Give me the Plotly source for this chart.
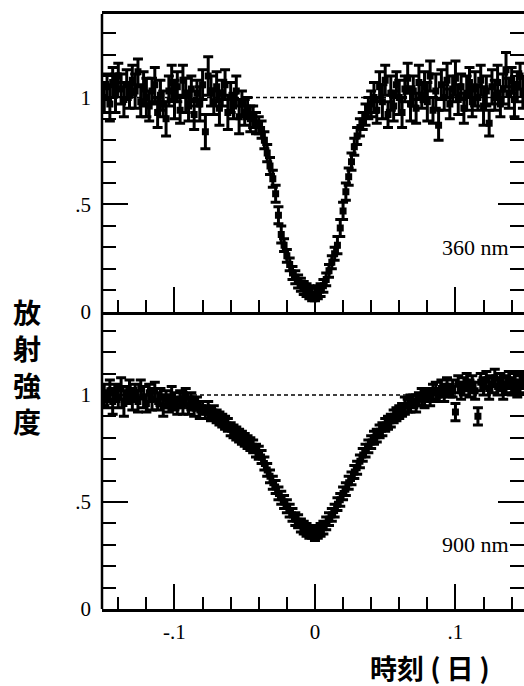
import plotly.graph_objects as go

# time (days), shared sampling for both bands
times = [-0.150, -0.148, -0.146, -0.144, -0.142, -0.140, -0.138, -0.136, -0.134, -0.132,
         -0.130, -0.128, -0.126, -0.124, -0.122, -0.120, -0.118, -0.116, -0.114, -0.112,
         -0.110, -0.108, -0.106, -0.104, -0.102, -0.100, -0.098, -0.096, -0.094, -0.092,
         -0.090, -0.088, -0.086, -0.084, -0.082, -0.080, -0.078, -0.076, -0.074, -0.072,
         -0.070, -0.068, -0.066, -0.064, -0.062, -0.060, -0.058, -0.056, -0.054, -0.052,
         -0.050, -0.048, -0.046, -0.044, -0.042, -0.040, -0.038, -0.036, -0.034, -0.032,
         -0.030, -0.028, -0.026, -0.024, -0.022, -0.020, -0.018, -0.016, -0.014, -0.012,
         -0.010, -0.008, -0.006, -0.004, -0.002, 0.000, 0.002, 0.004, 0.006, 0.008,
         0.010, 0.012, 0.014, 0.016, 0.018, 0.020, 0.022, 0.024, 0.026, 0.028,
         0.030, 0.032, 0.034, 0.036, 0.038, 0.040, 0.042, 0.044, 0.046, 0.048,
         0.050, 0.052, 0.054, 0.056, 0.058, 0.060, 0.062, 0.064, 0.066, 0.068,
         0.070, 0.072, 0.074, 0.076, 0.078, 0.080, 0.082, 0.084, 0.086, 0.088,
         0.090, 0.092, 0.094, 0.096, 0.098, 0.100, 0.102, 0.104, 0.106, 0.108,
         0.110, 0.112, 0.114, 0.116, 0.118, 0.120, 0.122, 0.124, 0.126, 0.128,
         0.130, 0.132, 0.134, 0.136, 0.138, 0.140, 0.142, 0.144, 0.146, 0.148]

# 360 nm relative flux
flux_360 = [1.00, 1.05, 0.97, 1.07, 1.02, 1.10, 1.04, 0.99, 1.06, 1.01,
            1.08, 1.03, 1.12, 0.98, 1.04, 1.00, 0.96, 1.03, 1.06, 0.93,
            1.01, 0.97, 0.90, 1.03, 1.07, 0.99, 1.05, 0.94, 1.08, 1.01,
            0.96, 1.04, 0.92, 1.02, 0.97, 1.06, 0.84, 1.10, 1.03, 0.98,
            1.05, 0.95, 1.02, 1.06, 0.93, 1.00, 0.96, 1.03, 0.91, 0.97,
            0.93, 0.95, 0.90, 0.91, 0.88, 0.87, 0.85, 0.80, 0.74, 0.68,
            0.62, 0.55, 0.45, 0.36, 0.31, 0.26, 0.22, 0.18, 0.16, 0.14,
            0.125, 0.11, 0.10, 0.09, 0.08, 0.08, 0.09, 0.10, 0.12, 0.15,
            0.19, 0.23, 0.27, 0.31, 0.39, 0.47, 0.56, 0.63, 0.70, 0.77,
            0.82, 0.86, 0.89, 0.92, 0.95, 0.97, 1.00, 0.94, 1.05, 0.98,
            1.08, 0.92, 1.02, 0.96, 1.06, 1.00, 0.93, 1.04, 1.09, 0.97,
            1.03, 0.95, 1.07, 1.01, 1.05, 0.98, 1.10, 0.94, 1.03, 0.87,
            1.06, 1.00, 1.08, 0.97, 1.04, 1.09, 0.99, 1.05, 0.95, 1.02,
            1.07, 0.98, 1.04, 1.00, 1.08, 0.96, 1.03, 0.88, 1.05, 1.01,
            1.07, 0.97, 1.04, 1.13, 1.02, 1.08, 0.99, 1.05, 1.10, 1.02]
err_360 = [0.07, 0.06, 0.08, 0.07, 0.09, 0.06, 0.07, 0.08, 0.07, 0.06,
           0.07, 0.08, 0.06, 0.07, 0.08, 0.09, 0.07, 0.06, 0.08, 0.07,
           0.07, 0.06, 0.08, 0.07, 0.08, 0.09, 0.07, 0.06, 0.07, 0.08,
           0.07, 0.06, 0.07, 0.06, 0.08, 0.07, 0.08, 0.09, 0.07, 0.06,
           0.07, 0.08, 0.06, 0.07, 0.08, 0.07, 0.06, 0.07, 0.08, 0.06,
           0.06, 0.05, 0.06, 0.05, 0.05, 0.04, 0.04, 0.04, 0.04, 0.04,
           0.04, 0.04, 0.04, 0.04, 0.03, 0.03, 0.03, 0.03, 0.03, 0.03,
           0.03, 0.03, 0.03, 0.03, 0.03, 0.03, 0.03, 0.03, 0.03, 0.03,
           0.03, 0.03, 0.03, 0.04, 0.04, 0.04, 0.04, 0.04, 0.04, 0.04,
           0.04, 0.04, 0.04, 0.05, 0.05, 0.06, 0.07, 0.06, 0.07, 0.08,
           0.07, 0.06, 0.08, 0.07, 0.06, 0.08, 0.07, 0.06, 0.07, 0.08,
           0.07, 0.07, 0.08, 0.06, 0.07, 0.09, 0.07, 0.06, 0.08, 0.07,
           0.07, 0.06, 0.08, 0.07, 0.06, 0.08, 0.07, 0.06, 0.07, 0.08,
           0.07, 0.07, 0.08, 0.06, 0.07, 0.09, 0.07, 0.06, 0.08, 0.07,
           0.08, 0.06, 0.07, 0.08, 0.07, 0.06, 0.08, 0.07, 0.06, 0.07]

# 900 nm relative flux
flux_900 = [1.00, 0.98, 1.02, 0.97, 1.01, 0.99, 1.03, 0.96, 1.00, 1.02,
            0.98, 1.01, 0.97, 1.03, 0.99, 0.96, 1.01, 0.98, 1.02, 0.97,
            0.99, 0.95, 0.98, 0.96, 0.99, 0.97, 0.95, 0.98, 0.96, 0.99,
            0.95, 0.97, 0.94, 0.96, 0.93, 0.94, 0.92, 0.93, 0.91, 0.92,
            0.90, 0.89, 0.88, 0.87, 0.86, 0.84, 0.83, 0.82, 0.81, 0.80,
            0.79, 0.78, 0.77, 0.76, 0.74, 0.73, 0.71, 0.68, 0.65, 0.62,
            0.59, 0.57, 0.54, 0.52, 0.50, 0.48, 0.46, 0.44, 0.42, 0.41,
            0.39, 0.38, 0.37, 0.36, 0.36, 0.35, 0.36, 0.37, 0.38, 0.40,
            0.42, 0.44, 0.46, 0.49, 0.51, 0.54, 0.56, 0.59, 0.61, 0.64,
            0.66, 0.69, 0.72, 0.74, 0.76, 0.78, 0.80, 0.81, 0.83, 0.84,
            0.86, 0.87, 0.88, 0.90, 0.91, 0.92, 0.93, 0.95, 0.95, 0.96,
            0.97, 0.96, 0.98, 0.99, 0.98, 1.00, 0.99, 1.01, 1.02, 1.00,
            1.03, 1.01, 1.04, 1.02, 1.03, 0.92, 1.05, 1.02, 1.04, 1.06,
            1.03, 1.05, 1.02, 0.90, 1.06, 1.04, 1.07, 1.03, 1.05, 1.08,
            1.04, 1.06, 1.03, 1.05, 1.07, 1.04, 1.06, 1.03, 1.05, 1.07]
err_900 = [0.05, 0.04, 0.05, 0.06, 0.04, 0.05, 0.05, 0.06, 0.04, 0.05,
           0.05, 0.04, 0.05, 0.04, 0.05, 0.04, 0.04, 0.05, 0.04, 0.04,
           0.04, 0.05, 0.04, 0.04, 0.05, 0.04, 0.04, 0.04, 0.05, 0.04,
           0.04, 0.04, 0.04, 0.03, 0.04, 0.03, 0.03, 0.04, 0.03, 0.03,
           0.03, 0.03, 0.03, 0.03, 0.03, 0.03, 0.03, 0.03, 0.03, 0.03,
           0.03, 0.03, 0.03, 0.03, 0.03, 0.03, 0.03, 0.03, 0.03, 0.03,
           0.03, 0.03, 0.03, 0.03, 0.03, 0.03, 0.03, 0.03, 0.03, 0.03,
           0.03, 0.03, 0.03, 0.03, 0.03, 0.03, 0.03, 0.03, 0.03, 0.03,
           0.03, 0.03, 0.03, 0.03, 0.03, 0.03, 0.03, 0.03, 0.03, 0.03,
           0.03, 0.03, 0.03, 0.03, 0.03, 0.03, 0.03, 0.03, 0.03, 0.03,
           0.03, 0.03, 0.03, 0.03, 0.03, 0.03, 0.03, 0.04, 0.03, 0.04,
           0.03, 0.04, 0.03, 0.04, 0.04, 0.03, 0.04, 0.04, 0.04, 0.03,
           0.04, 0.04, 0.04, 0.03, 0.04, 0.04, 0.04, 0.04, 0.04, 0.04,
           0.04, 0.04, 0.04, 0.04, 0.04, 0.04, 0.04, 0.05, 0.04, 0.04,
           0.04, 0.04, 0.05, 0.04, 0.04, 0.04, 0.05, 0.04, 0.04, 0.04]

x_tickvals = [-0.1, 0, 0.1]
x_ticktext = ["-.1", "0", ".1"]
y_tickvals = [0, 0.5, 1]
y_ticktext = ["0", ".5", "1"]
labels = ["360 nm", "900 nm"]
y_title = "放射強度"
x_title = "時刻 ( 日 )"

SERIF = "Liberation Serif"
CJK = "Noto Sans CJK JP"

fig = go.Figure()

def add_panel(flux, err, xa, ya):
    fig.add_trace(go.Scatter(
        x=times, y=flux, xaxis=xa, yaxis=ya, mode="markers",
        marker=dict(symbol="square", size=7, color="black"),
        error_y=dict(type="data", array=err, visible=True, color="black",
                     thickness=3, width=5),
        showlegend=False, hoverinfo="skip"))

add_panel(flux_900, err_900, "x", "y")
add_panel(flux_360, err_360, "x2", "y2")

xr = [-0.1516, 0.1488]
yr = [0, 1.39]

xcommon = dict(range=xr, showline=True, linewidth=2.5, linecolor="black",
               ticks="inside", ticklen=25, tickwidth=2, tickcolor="black",
               tickmode="array", tickvals=x_tickvals, ticktext=x_ticktext,
               minor=dict(dtick=0.02, tick0=0, ticks="inside", ticklen=12,
                          tickwidth=2, tickcolor="black", showgrid=False),
               showgrid=False, zeroline=False, ticklabelstandoff=2,
               tickfont=dict(family=SERIF, size=21, color="black"))
ycommon = dict(range=yr, showline=False, ticks="inside", ticklen=26,
               tickwidth=2, tickcolor="black", mirror="ticks",
               tickmode="array", tickvals=y_tickvals, ticktext=y_ticktext,
               minor=dict(dtick=0.1, tick0=0, ticks="inside", ticklen=14,
                          tickwidth=2, tickcolor="black", showgrid=False),
               showgrid=False, zeroline=False, ticklabelstandoff=10,
               tickfont=dict(family=SERIF, size=21, color="black"))

fig.update_layout(
    width=524, height=686,
    margin=dict(l=102, r=0, t=14, b=77),
    paper_bgcolor="white", plot_bgcolor="white",
    xaxis=dict(**xcommon, anchor="y", domain=[0, 1], mirror=False),
    xaxis2=dict(**xcommon, anchor="y2", domain=[0, 1], matches="x",
                showticklabels=False, mirror=True),
    yaxis=dict(**ycommon, anchor="x", domain=[0, 0.5]),
    yaxis2=dict(**ycommon, anchor="x2", domain=[0.5, 1]),
    showlegend=False,
)

# left frame line
fig.add_shape(type="line", xref="paper", yref="paper", x0=0, x1=0, y0=0, y1=1,
              line=dict(color="black", width=2.5))
# reference level y=1
for yref in ["y", "y2"]:
    fig.add_shape(type="line", xref="paper", yref=yref, x0=0, x1=1, y0=1, y1=1,
                  line=dict(color="black", width=1.5, dash="4px,3px"), layer="below")

for lab, yref in zip(labels, ["y2", "y"]):
    fig.add_annotation(text=lab, xref="paper", yref=yref, x=(511 - 102) / 422, y=0.3,
                       xanchor="right", yanchor="middle", showarrow=False,
                       font=dict(family=SERIF, size=22, color="black"))

fig.add_annotation(text="<br>".join(list(y_title)), xref="paper", yref="paper",
                   x=(27 - 102) / 422, y=(609 - 366) / 595, xanchor="center",
                   yanchor="middle", showarrow=False,
                   font=dict(family=CJK, size=28, color="black", weight="bold"))
fig.add_annotation(text=x_title, xref="paper", yref="paper",
                   x=(430 - 102) / 422, y=(609 - 667) / 595, xanchor="center",
                   yanchor="middle", showarrow=False,
                   font=dict(family=CJK, size=27, color="black", weight="bold"))

fig.write_html("out.html", config={"displayModeBar": False},
               post_script="document.body.style.margin='0';")
